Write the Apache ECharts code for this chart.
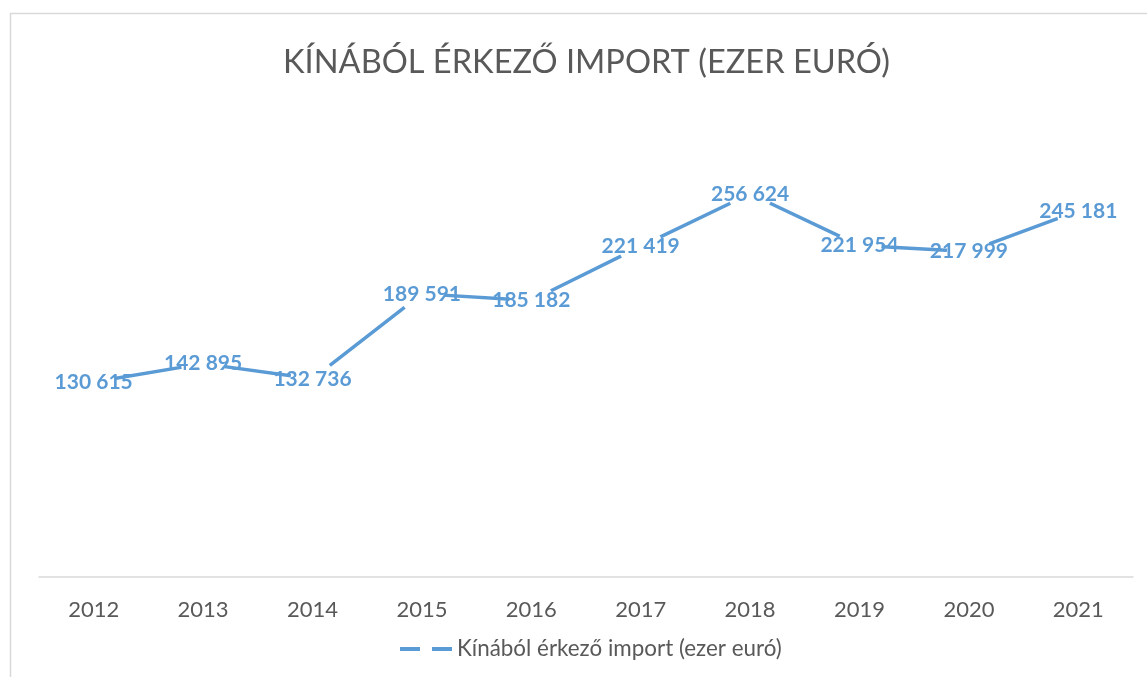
<!DOCTYPE html>
<html>
<head>
<meta charset="utf-8">
<script src="https://cdn.jsdelivr.net/npm/echarts@6/dist/echarts.min.js"></script>
<style>
html, body { margin: 0; padding: 0; background: #fff; }
#chart { width: 1147px; height: 677px; }
</style>
</head>
<body>
<div id="chart"></div>
<script>
var years = ["2012", "2013", "2014", "2015", "2016", "2017", "2018", "2019", "2020", "2021"];
var importValues = [130615, 142895, 132736, 189591, 185182, 221419, 256624, 221954, 217999, 245181];
var seriesName = "Kínából érkező import (ezer euró)";

var blue = "#5B9BD5";
var grey = "#595959";

function fmt(v) {
    return String(v).replace(/\B(?=(\d{3})+(?!\d))/g, " ");
}

var myChart = echarts.init(document.getElementById("chart"));
myChart.setOption({
    animation: false,
    backgroundColor: "#fff",
    title: {
        text: "KÍNÁBÓL ÉRKEZŐ IMPORT (EZER EURÓ)",
        left: 278,
        top: 41,
        textStyle: {
            fontFamily: "Lato",
            fontWeight: "normal",
            fontSize: 32.6,
            color: grey,
        },
    },
    graphic: [{
        type: "rect",
        shape: { x: 10.5, y: 13.5, width: 1200, height: 700 },
        style: { fill: "none", stroke: "#d9d9d9", lineWidth: 1.5 },
        silent: true,
    }],
    legend: {
        bottom: 12,
        left: 395,
        data: [seriesName],
        icon: "path://M0,0H20V4H0Z M32,0H52V4H32Z",
        itemWidth: 52,
        itemHeight: 4,
        itemGap: 5,
        textStyle: {
            fontFamily: "Lato",
            fontSize: 22.4,
            color: grey,
        },
    },
    grid: {
        left: 39,
        right: 14,
        top: 129,
        bottom: 100,
    },
    xAxis: {
        type: "category",
        data: years,
        boundaryGap: true,
        axisLine: { lineStyle: { color: "#d9d9d9", width: 1.5 } },
        axisTick: { show: false },
        axisLabel: {
            margin: 22,
            fontFamily: "Lato",
            fontSize: 22,
            color: grey,
        },
    },
    yAxis: {
        type: "value",
        min: 0,
        max: 300000,
        show: false,
        splitLine: { show: false },
    },
    series: [{
        name: seriesName,
        type: "line",
        data: importValues,
        showSymbol: false,
        color: blue,
        lineStyle: { width: 3.5, color: blue },
        z: 2,
    }, {
        // white discs that cut the line round each point, with the value labels on top
        name: "labels",
        type: "scatter",
        data: importValues,
        symbol: "circle",
        symbolSize: 44,
        itemStyle: { color: "#fff", opacity: 1 },
        z: 3,
        label: {
            show: true,
            position: "inside",
            formatter: function (p) { return fmt(p.value); },
            fontFamily: "Lato",
            fontWeight: "bold",
            fontSize: 21,
            color: blue,
            opacity: 1,
        },
    }],
});
</script>
</body>
</html>
